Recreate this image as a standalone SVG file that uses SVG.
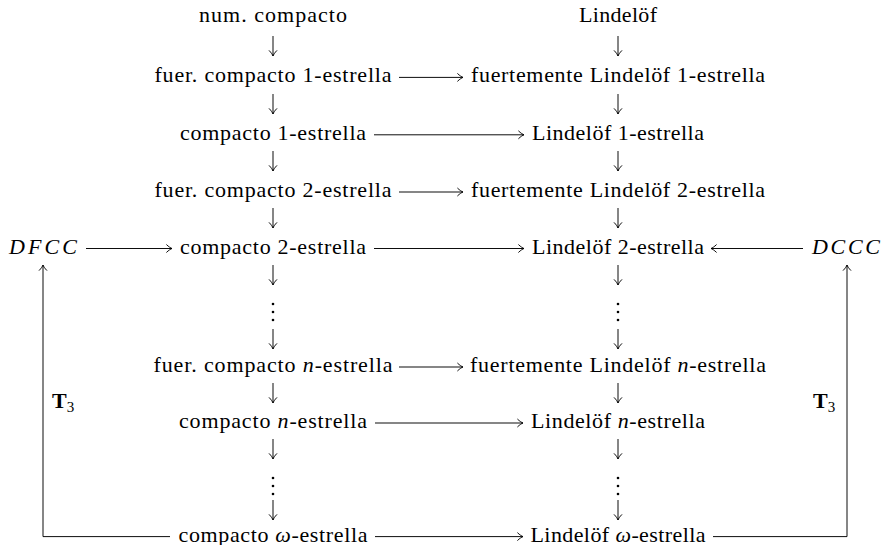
<svg xmlns="http://www.w3.org/2000/svg" width="885" height="545" viewBox="0 0 885 545">
  <style>
    text { font-family: "Liberation Serif", "Times New Roman", serif; font-size: 22px; fill: #000; }
    .c { text-anchor: middle; }
    .it { font-style: italic; }
    .bf { font-weight: bold; }
    .sub { font-size: 15px; }
    .ln { fill: none; stroke: #000; stroke-width: 0.95; }
    .dot { fill: #000; }
  </style>
  <defs>
    <marker id="ah" viewBox="0 0 10 10" refX="9.2" refY="5" markerWidth="10" markerHeight="10" markerUnits="userSpaceOnUse" orient="auto">
      <path d="M3.6,1 C6,3.4 8,4.5 9.2,5 C8,5.5 6,6.6 3.6,9" fill="none" stroke="#000" stroke-width="0.95"/>
    </marker>
  </defs>

  <!-- left column: compactness notions -->
  <g id="n-num-compacto"><text class="c" x="273" y="22" textLength="148">num. compacto</text></g>
  <g id="n-fc1"><text class="c" x="273" y="82.4" textLength="237">fuer. compacto 1-estrella</text></g>
  <g id="n-c1"><text class="c" x="273" y="139.8" textLength="186">compacto 1-estrella</text></g>
  <g id="n-fc2"><text class="c" x="273" y="197" textLength="237">fuer. compacto 2-estrella</text></g>
  <g id="n-c2"><text class="c" x="273" y="253.5" textLength="186">compacto 2-estrella</text></g>
  <g id="n-fcn"><text class="c" x="273" y="372" textLength="239">fuer. compacto <tspan class="it">n</tspan>-estrella</text></g>
  <g id="n-cn"><text class="c" x="273" y="428" textLength="188">compacto <tspan class="it">n</tspan>-estrella</text></g>
  <g id="n-cw"><text class="c" x="273" y="541.6" textLength="189">compacto <tspan class="it">ω</tspan>-estrella</text></g>

  <!-- right column: Lindelöf notions -->
  <g id="n-lindelof"><text class="c" x="618" y="22" textLength="78">Lindelöf</text></g>
  <g id="n-fl1"><text class="c" x="618" y="82.4" textLength="294">fuertemente Lindelöf 1-estrella</text></g>
  <g id="n-l1"><text class="c" x="618" y="139.8" textLength="172">Lindelöf 1-estrella</text></g>
  <g id="n-fl2"><text class="c" x="618" y="197" textLength="294">fuertemente Lindelöf 2-estrella</text></g>
  <g id="n-l2"><text class="c" x="618" y="253.5" textLength="172">Lindelöf 2-estrella</text></g>
  <g id="n-fln"><text class="c" x="618" y="372" textLength="296">fuertemente Lindelöf <tspan class="it">n</tspan>-estrella</text></g>
  <g id="n-ln"><text class="c" x="618" y="428" textLength="174">Lindelöf <tspan class="it">n</tspan>-estrella</text></g>
  <g id="n-lw"><text class="c" x="618" y="541.6" textLength="175">Lindelöf <tspan class="it">ω</tspan>-estrella</text></g>

  <!-- side nodes -->
  <g id="n-dfcc"><text class="c it" x="43" y="253.5" textLength="68">DFCC</text></g>
  <g id="n-dccc"><text class="c it" x="846" y="253.5" textLength="68">DCCC</text></g>

  <!-- edge labels -->
  <g id="lbl-t3-left"><text x="52" y="408"><tspan class="bf">T</tspan><tspan class="sub" dy="4">3</tspan></text></g>
  <g id="lbl-t3-right"><text x="813" y="408"><tspan class="bf">T</tspan><tspan class="sub" dy="4">3</tspan></text></g>

  <g id="connectors" class="ln">
    <!-- vertical implications, left column -->
    <line x1="273" y1="36" x2="273" y2="56" marker-end="url(#ah)"/>
    <line x1="273" y1="94" x2="273" y2="114" marker-end="url(#ah)"/>
    <line x1="273" y1="151" x2="273" y2="171" marker-end="url(#ah)"/>
    <line x1="273" y1="208" x2="273" y2="228" marker-end="url(#ah)"/>
    <line x1="273" y1="265" x2="273" y2="285" marker-end="url(#ah)"/>
    <line x1="273" y1="329" x2="273" y2="349" marker-end="url(#ah)"/>
    <line x1="273" y1="383" x2="273" y2="403" marker-end="url(#ah)"/>
    <line x1="273" y1="439" x2="273" y2="459" marker-end="url(#ah)"/>
    <line x1="273" y1="500" x2="273" y2="520" marker-end="url(#ah)"/>
    <!-- vertical implications, right column -->
    <line x1="618" y1="36" x2="618" y2="56" marker-end="url(#ah)"/>
    <line x1="618" y1="94" x2="618" y2="114" marker-end="url(#ah)"/>
    <line x1="618" y1="151" x2="618" y2="171" marker-end="url(#ah)"/>
    <line x1="618" y1="208" x2="618" y2="228" marker-end="url(#ah)"/>
    <line x1="618" y1="265" x2="618" y2="285" marker-end="url(#ah)"/>
    <line x1="618" y1="329" x2="618" y2="349" marker-end="url(#ah)"/>
    <line x1="618" y1="383" x2="618" y2="403" marker-end="url(#ah)"/>
    <line x1="618" y1="439" x2="618" y2="459" marker-end="url(#ah)"/>
    <line x1="618" y1="500" x2="618" y2="520" marker-end="url(#ah)"/>
    <!-- horizontal implications -->
    <line x1="399" y1="77.4" x2="463" y2="77.4" marker-end="url(#ah)"/>
    <line x1="374" y1="134.8" x2="524" y2="134.8" marker-end="url(#ah)"/>
    <line x1="399" y1="192" x2="463" y2="192" marker-end="url(#ah)"/>
    <line x1="86" y1="248.5" x2="172" y2="248.5" marker-end="url(#ah)"/>
    <line x1="374" y1="248.5" x2="524" y2="248.5" marker-end="url(#ah)"/>
    <line x1="803" y1="248.5" x2="711" y2="248.5" marker-end="url(#ah)"/>
    <line x1="399" y1="367" x2="463" y2="367" marker-end="url(#ah)"/>
    <line x1="375" y1="423" x2="523" y2="423" marker-end="url(#ah)"/>
    <line x1="375" y1="536.6" x2="523" y2="536.6" marker-end="url(#ah)"/>
    <!-- T3 return paths -->
    <path d="M170,536.6 H43 V265" marker-end="url(#ah)"/>
    <path d="M713,536.6 H847 V265" marker-end="url(#ah)"/>
  </g>

  <!-- vertical ellipses -->
  <g id="dots">
    <circle class="dot" cx="273" cy="304" r="1.3"/>
    <circle class="dot" cx="273" cy="312" r="1.3"/>
    <circle class="dot" cx="273" cy="320" r="1.3"/>
    <circle class="dot" cx="618" cy="304" r="1.3"/>
    <circle class="dot" cx="618" cy="312" r="1.3"/>
    <circle class="dot" cx="618" cy="320" r="1.3"/>
    <circle class="dot" cx="273" cy="478" r="1.3"/>
    <circle class="dot" cx="273" cy="486" r="1.3"/>
    <circle class="dot" cx="273" cy="494" r="1.3"/>
    <circle class="dot" cx="618" cy="478" r="1.3"/>
    <circle class="dot" cx="618" cy="486" r="1.3"/>
    <circle class="dot" cx="618" cy="494" r="1.3"/>
  </g>
</svg>
